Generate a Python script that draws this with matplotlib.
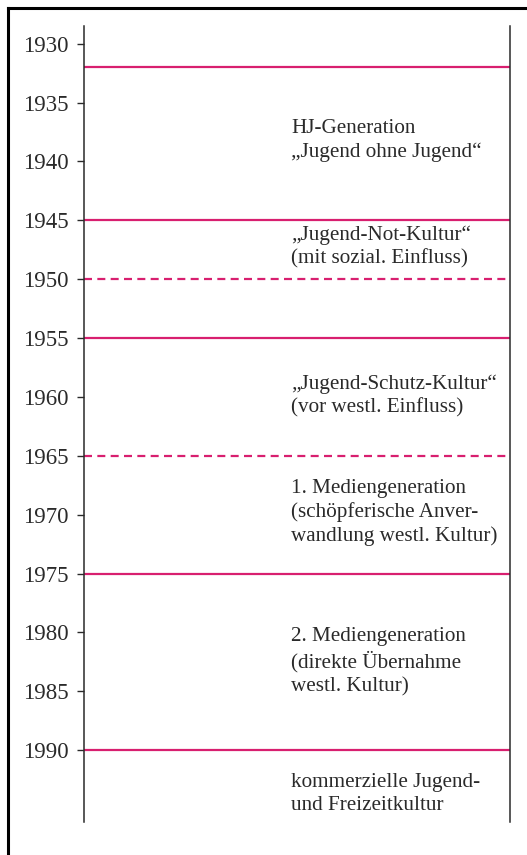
import matplotlib.pyplot as plt
from matplotlib.lines import Line2D

plt.rcParams['font.family'] = ['Liberation Serif', 'DejaVu Serif']

# tick years on the left axis
years = [1930, 1935, 1940, 1945, 1950, 1955, 1960, 1965, 1970, 1975, 1980, 1985, 1990]

# period boundaries
solid_years = [1932, 1945, 1955, 1975, 1990]
dotted_years = [1950, 1965]

# period labels and their vertical centre (year)
label_years = [1938.2, 1947.3, 1959.9, 1969.8, 1982.5, 1993.7]
labels = [
    'HJ-Generation\n\u201eJugend ohne Jugend\u201c',
    '\u201eJugend-Not-Kultur\u201c\n(mit sozial. Einfluss)',
    '\u201eJugend-Schutz-Kultur\u201c\n(vor westl. Einfluss)',
    '1. Mediengeneration\n(schöpferische Anver-\nwandlung westl. Kultur)',
    '2. Mediengeneration\n(direkte Übernahme\nwestl. Kultur)',
    'kommerzielle Jugend-\nund Freizeitkultur',
]

line_color = '#d81f6f'

fig = plt.figure(figsize=(5.27, 8.55), dpi=100)
ax = fig.add_axes([84 / 527, 33 / 855, 426 / 527, 796 / 855])

ax.set_ylim(1996.1, 1928.5)
ax.set_xlim(0, 1)

for y in solid_years:
    ax.axhline(y, color=line_color, lw=1.6)
for y in dotted_years:
    ax.axhline(y, color=line_color, lw=1.6, ls=(0, (3.6, 2.4)))

for y, txt in zip(label_years, labels):
    ax.text(0.486, y, txt, ha='left', va='center', fontsize=15.2,
            color='#2a2a2a', linespacing=1.3)

ax.set_yticks(years)
ax.set_yticklabels([str(y) for y in years], fontsize=16.5, color='#2a2a2a')
ax.tick_params(axis='y', direction='out', length=5, width=1, pad=6, color='#2a2a2a')
ax.set_xticks([])
ax.spines['top'].set_visible(False)
ax.spines['bottom'].set_visible(False)
for s in ('left', 'right'):
    ax.spines[s].set_linewidth(1.1)
    ax.spines[s].set_color('#2a2a2a')

# partial frame around the figure (top and left only)
fig.add_artist(Line2D([8 / 527, 1], [1 - 8 / 855, 1 - 8 / 855], color='black', lw=2.2,
                      transform=fig.transFigure))
fig.add_artist(Line2D([8 / 527, 8 / 527], [0, 1 - 8 / 855], color='black', lw=2.2,
                      transform=fig.transFigure))

fig.savefig('out.png', dpi=100)
